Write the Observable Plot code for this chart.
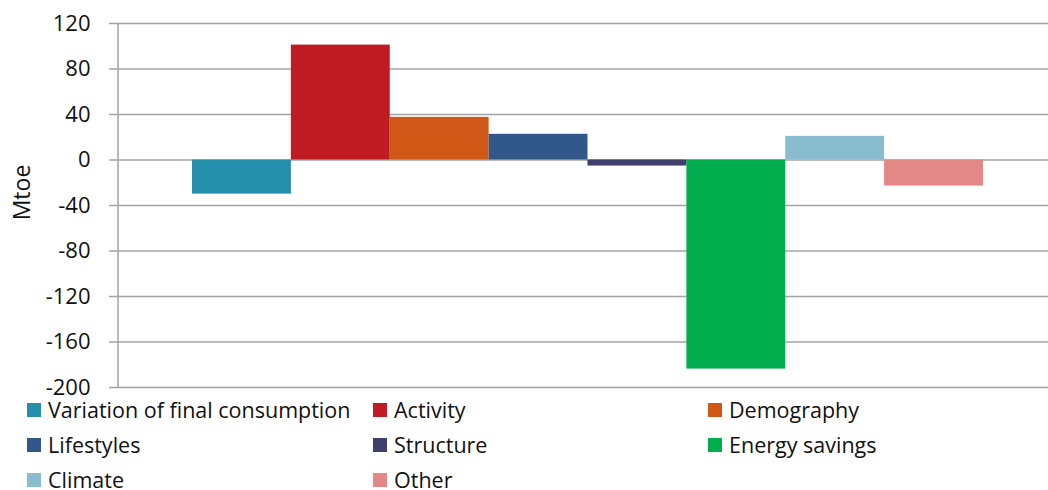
<!DOCTYPE html>
<html>
<head>
<meta charset="utf-8">
<script src="https://cdn.jsdelivr.net/npm/d3@7"></script>
<script src="https://cdn.jsdelivr.net/npm/@observablehq/plot@0.6"></script>
<style>
  html, body { margin: 0; padding: 0; background: #fff; }
  #chart { width: 1048px; height: 392px; overflow: visible; font-family: "Open Sans", sans-serif; }
  #chart svg { overflow: visible; }
  #legend { position: relative; width: 1048px; height: 98px; font-family: "Open Sans", sans-serif; font-size: 21.5px; color: #111; }
  .item { position: absolute; height: 35px; line-height: 26px; display: flex; align-items: center; }
  .sw { width: 14px; height: 14px; margin-right: 7px; flex: none; }
</style>
</head>
<body>
<div id="chart"></div>
<div id="legend"></div>
<script>
const categories = ["Variation of final consumption", "Activity", "Demography", "Lifestyles", "Structure", "Energy savings", "Climate", "Other"];
const values = [-30, 101, 37.5, 22.6, -5.3, -183.8, 20.8, -22.9];
const colors = ["#268FAC", "#C01B23", "#CF5816", "#325789", "#3E3F6A", "#00AE4E", "#89BCCE", "#E38787"];
const yTicks = [120, 80, 40, 0, -40, -80, -120, -160, -200];
const yLabel = "Mtoe";

const data = categories.map((c, i) => ({category: c, value: values[i]}));
const grid = "#a3a3a3";

const leftAxisLine = (index, scales, values, dims) => {
  const line = document.createElementNS("http://www.w3.org/2000/svg", "line");
  line.setAttribute("x1", dims.marginLeft);
  line.setAttribute("x2", dims.marginLeft);
  line.setAttribute("y1", scales.y(120));
  line.setAttribute("y2", scales.y(-200));
  line.setAttribute("stroke", grid);
  line.setAttribute("stroke-width", 1.5);
  return line;
};

const chart = Plot.plot({
  width: 1048,
  height: 392,
  marginTop: 23,
  marginBottom: 5,
  marginLeft: 118,
  marginRight: 0,
  style: {fontFamily: "'Open Sans', sans-serif", fontSize: "22px", color: "#111", background: "transparent", overflow: "visible"},
  x: {domain: categories, padding: 0, round: false, insetLeft: 74, insetRight: 65, axis: null},
  y: {domain: [-200, 120]},
  color: {domain: categories, range: colors},
  marks: [
    Plot.gridY(yTicks, {stroke: grid, strokeOpacity: 1, strokeWidth: 1.5}),
    Plot.barY(data, {x: "category", y: "value", fill: "category"}),
    Plot.axisY(yTicks, {tickSize: 9, tickPadding: 19, stroke: grid, strokeOpacity: 1, strokeWidth: 1.5, fontSize: 22, label: null, tickFormat: d => d < 0 ? "-" + Math.abs(d) : String(d)}),
    leftAxisLine,
    Plot.text([yLabel], {frameAnchor: "left", textAnchor: "middle", rotate: -90, dx: -96, dy: -13, fontSize: 23, fill: "#111"})
  ]
});
document.getElementById("chart").appendChild(chart);

const legend = document.getElementById("legend");
const colX = [27, 373, 708];
categories.forEach((c, i) => {
  const row = Math.floor(i / 3), col = i % 3;
  const div = document.createElement("div");
  div.className = "item";
  div.style.left = colX[col] + "px";
  div.style.top = (row * 35) + "px";
  const sw = document.createElement("span");
  sw.className = "sw";
  sw.style.background = colors[i];
  const t = document.createElement("span");
  t.textContent = c;
  div.appendChild(sw);
  div.appendChild(t);
  legend.appendChild(div);
});
</script>
</body>
</html>
